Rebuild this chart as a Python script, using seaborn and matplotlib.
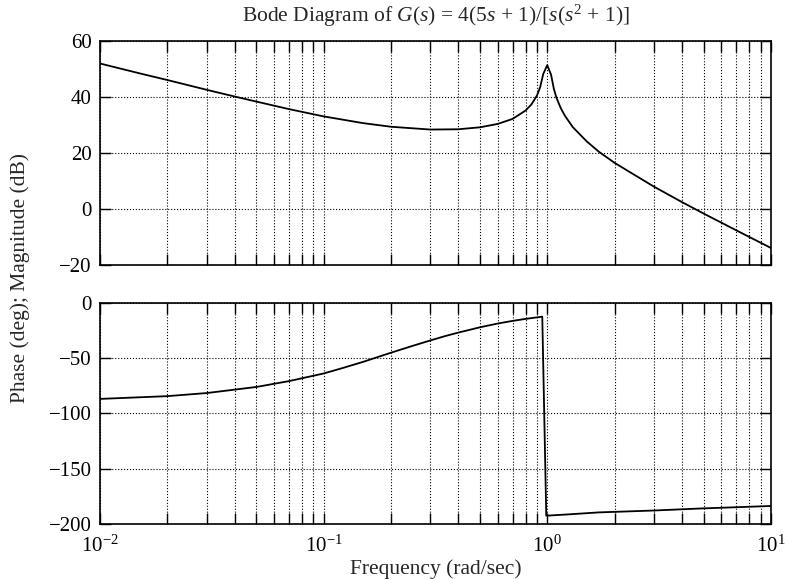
import matplotlib
matplotlib.use("Agg")
import matplotlib.pyplot as plt
import seaborn as sns
import pandas as pd
from matplotlib.ticker import LogLocator, NullFormatter

# values
mag_freq = [0.01, 0.015, 0.02, 0.03, 0.04, 0.05, 0.07, 0.1, 0.15, 0.2, 0.3, 0.4, 0.5, 0.6,
            0.7, 0.8, 0.85, 0.9, 0.93, 0.96, 1.0, 1.04, 1.07, 1.1, 1.15, 1.2, 1.3, 1.5,
            1.7, 2.0, 3.0, 4.0, 5.0, 7.0, 10.0]
mag_db = [52.0, 48.5, 46.1, 42.6, 40.2, 38.4, 35.7, 33.1, 30.7, 29.4, 28.4, 28.5, 29.2, 30.4,
          32.2, 35.2, 37.4, 40.6, 43.6, 48.3, 51.4, 48.0, 43.0, 39.7, 36.0, 33.3, 29.3, 24.2,
          20.5, 16.5, 8.0, 2.5, -1.6, -7.6, -13.9]

phase_freq = [0.01, 0.02, 0.03, 0.05, 0.07, 0.1, 0.12, 0.15, 0.2, 0.25, 0.3, 0.35, 0.4,
              0.5, 0.6, 0.7, 0.8, 0.9, 0.95, 0.99, 1.2, 1.7, 3.0, 4.8, 10.0]
phase_deg = [-86.8, -84.3, -81.5, -76.0, -70.7, -63.8, -59.2, -53.3, -45.0, -38.8, -33.9,
             -29.9, -26.8, -22.0, -18.6, -16.2, -14.4, -13.0, -12.4, -192.5, -191.5,
             -189.5, -187.8, -186.0, -183.7]

sns.set_theme(style="ticks")
plt.rcParams['font.family'] = ['Liberation Serif', 'DejaVu Serif']
plt.rcParams['mathtext.fontset'] = 'custom'
plt.rcParams['mathtext.rm'] = 'Liberation Serif'
plt.rcParams['mathtext.it'] = 'Liberation Serif:italic'
plt.rcParams['mathtext.bf'] = 'Liberation Serif:bold'

fig = plt.figure(figsize=(7.85, 5.79), dpi=100)
ax1 = fig.add_axes([0.1274, 0.5423, 0.8546, 0.3867])
ax2 = fig.add_axes([0.1274, 0.095, 0.8546, 0.3817])

mag = pd.DataFrame({'freq': mag_freq, 'mag': mag_db})
ph = pd.DataFrame({'freq': phase_freq, 'phase': phase_deg})

sns.lineplot(data=mag, x='freq', y='mag', ax=ax1, color='black', linewidth=1.3, sort=False)
sns.lineplot(data=ph, x='freq', y='phase', ax=ax2, color='black', linewidth=1.3, sort=False)

for ax in (ax1, ax2):
    ax.set_xscale('log')
    ax.set_xlim(0.01, 10)
    ax.xaxis.set_major_locator(LogLocator(base=10, numticks=10))
    ax.xaxis.set_minor_locator(LogLocator(base=10, subs=range(2, 10), numticks=20))
    ax.xaxis.set_minor_formatter(NullFormatter())
    ax.grid(True, which='both', axis='x', color='black', linestyle=':', linewidth=0.8)
    ax.grid(True, which='major', axis='y', color='black', linestyle=':', linewidth=0.8)
    ax.tick_params(which='both', direction='in', top=True, right=True, colors='black',
                   labelsize=15, width=1.0)
    ax.tick_params(which='major', length=8, pad=6)
    ax.tick_params(which='minor', length=8)
    for s in ax.spines.values():
        s.set_color('black')
        s.set_linewidth(1.2)
    ax.set_xlabel('')
    ax.set_ylabel('')

ax1.set_ylim(-20, 60)
ax1.set_yticks([-20, 0, 20, 40, 60])
ax1.set_yticklabels(['\u221220', '0', '20', '40', '60'])
ax1.tick_params(axis='x', labelbottom=False)

ax2.set_ylim(-200, 0)
ax2.set_yticks([-200, -150, -100, -50, 0])
ax2.set_yticklabels(['\u2212200', '\u2212150', '\u2212100', '\u221250', '0'])
ax2.tick_params(axis='x', pad=8)
ax2.set_xlabel('Frequency (rad/sec)', fontsize=15.5, labelpad=2)

ax1.set_title(r'Bode Diagram of $G(s)$ = 4(5$s$ + 1)/[$s$($s^2$ + 1)]', fontsize=15.5, pad=14)
fig.text(0.026, 0.52, 'Phase (deg); Magnitude (dB)', rotation=90, fontsize=15.5,
         ha='center', va='center')

fig.savefig('out.png', dpi=100, facecolor='white')
